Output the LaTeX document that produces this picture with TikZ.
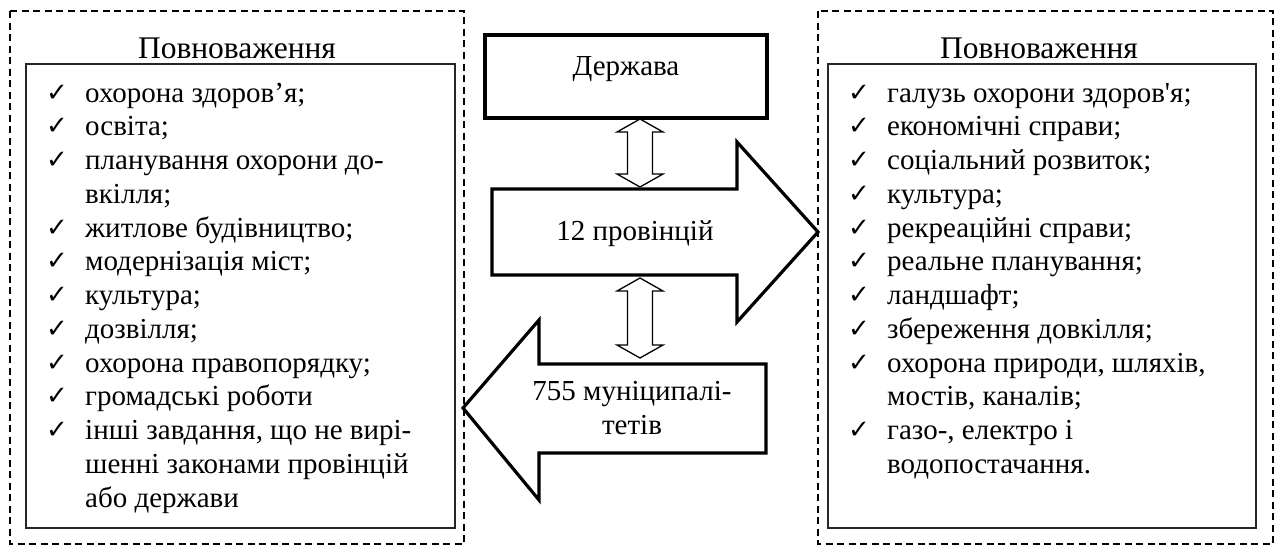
\documentclass[tikz,border=0pt]{standalone}
\usepackage{fontspec}
\setmainfont{Liberation Serif}
\newfontfamily\symfont{DejaVu Sans}
\newfontfamily\straightfont{Liberation Serif}
\usetikzlibrary{calc}
\newcommand{\twoway}[2]{\draw[twoarrow] (#1) -- ($(#1)+(23,13)$) -- ($(#1)+(12.5,13)$) -- ($(#2)+(12.5,-13)$) -- ($(#2)+(23,-13)$) -- (#2) -- ($(#2)+(-23,-13)$) -- ($(#2)+(-12.5,-13)$) -- ($(#1)+(-12.5,13)$) -- ($(#1)+(-23,13)$) -- cycle;}

\tikzset{
  panel/.style={draw, dash pattern=on 7pt off 4.5pt, line width=1.2pt},
  listbox/.style={draw, line width=1.7pt, black!85},
  heavy/.style={draw, line width=3.2pt},
  twoarrow/.style={draw, line width=1.3pt, fill=white},
  txt/.style={inner sep=0pt, font=\fontsize{29}{33.75}\selectfont},
  headtxt/.style={inner sep=0pt, font=\fontsize{31.5}{36}\selectfont},
  chk/.style={inner sep=0pt, font=\symfont\fontsize{26}{26}\selectfont},
}

\begin{document}
\begin{tikzpicture}[x=1pt,y=-1pt]
	\useasboundingbox (0,0) rectangle (1276,546);
	
	% panels
	\draw[panel] (10,11) rectangle (464,544);
	\draw[panel] (818,11) rectangle (1273,544);
	\draw[listbox] (26,64) rectangle (455,528);
	\draw[listbox] (828,64) rectangle (1256,528);
	\node[headtxt, anchor=base] (lhead) at (237,58) {Повноваження};
	\node[headtxt, anchor=base] (rhead) at (1039,58) {Повноваження};
	
	% left list
	\foreach \c/\t [count=\i from 0] in {1/охорона здоров’я;, 1/освіта;, 1/планування охорони до-, 0/вкілля;, 1/житлове будівництво;, 1/модернізація міст;, 1/культура;, 1/дозвілля;, 1/охорона правопорядку;, 1/громадські роботи, 1/{інші завдання, що не вирі-}, 0/шенні законами провінцій, 0/або держави}{
		\node[txt, anchor=base west] (l\i) at (85,102+33.75*\i) {\t};
		\ifnum\c=1 \node[chk, anchor=base west] (lc\i) at (46,101+33.75*\i) {✓};\fi
	}
	
	% right list
	\foreach \c/\t [count=\i from 0] in {1/галузь охорони здоров{\straightfont'}я;, 1/економічні справи;, 1/соціальний розвиток;, 1/культура;, 1/рекреаційні справи;, 1/реальне планування;, 1/ландшафт;, 1/збереження довкілля;, 1/{охорона природи, шляхів,}, 0/{мостів, каналів;}, 1/{газо-, електро і}, 0/водопостачання.}{
		\node[txt, anchor=base west] (r\i) at (887,102+33.75*\i) {\t};
		\ifnum\c=1 \node[chk, anchor=base west] (rc\i) at (848,101+33.75*\i) {✓};\fi
	}
	
	% levels
	\node[heavy, txt, minimum width=282pt, minimum height=83pt, text height=9pt, text depth=12pt] (state) at (626,76.5) {Держава};
	\draw[heavy] (492,189) -- (737,189) -- (737,142) -- (818,232) -- (737,322) -- (737,275) -- (492,275) -- cycle;
	\node[txt, anchor=base] (prov) at (635,240) {12 провінцій};
	\draw[heavy] (766,364) -- (539,364) -- (539,320) -- (463,408) -- (539,500) -- (539,453) -- (766,453) -- cycle;
	\node[txt, anchor=base] (munic) at (632,400) {755 муніципалі-};
	\node[txt, anchor=base] (munic2) at (632,434) {тетів};
	
	% links
	\coordinate (up1) at (640,119);
	\coordinate (dn1) at (640,187);
	\coordinate (up2) at (640,278);
	\coordinate (dn2) at (640,358);
	\twoway{up1}{dn1}
	\twoway{up2}{dn2}
\end{tikzpicture}
\end{document}
